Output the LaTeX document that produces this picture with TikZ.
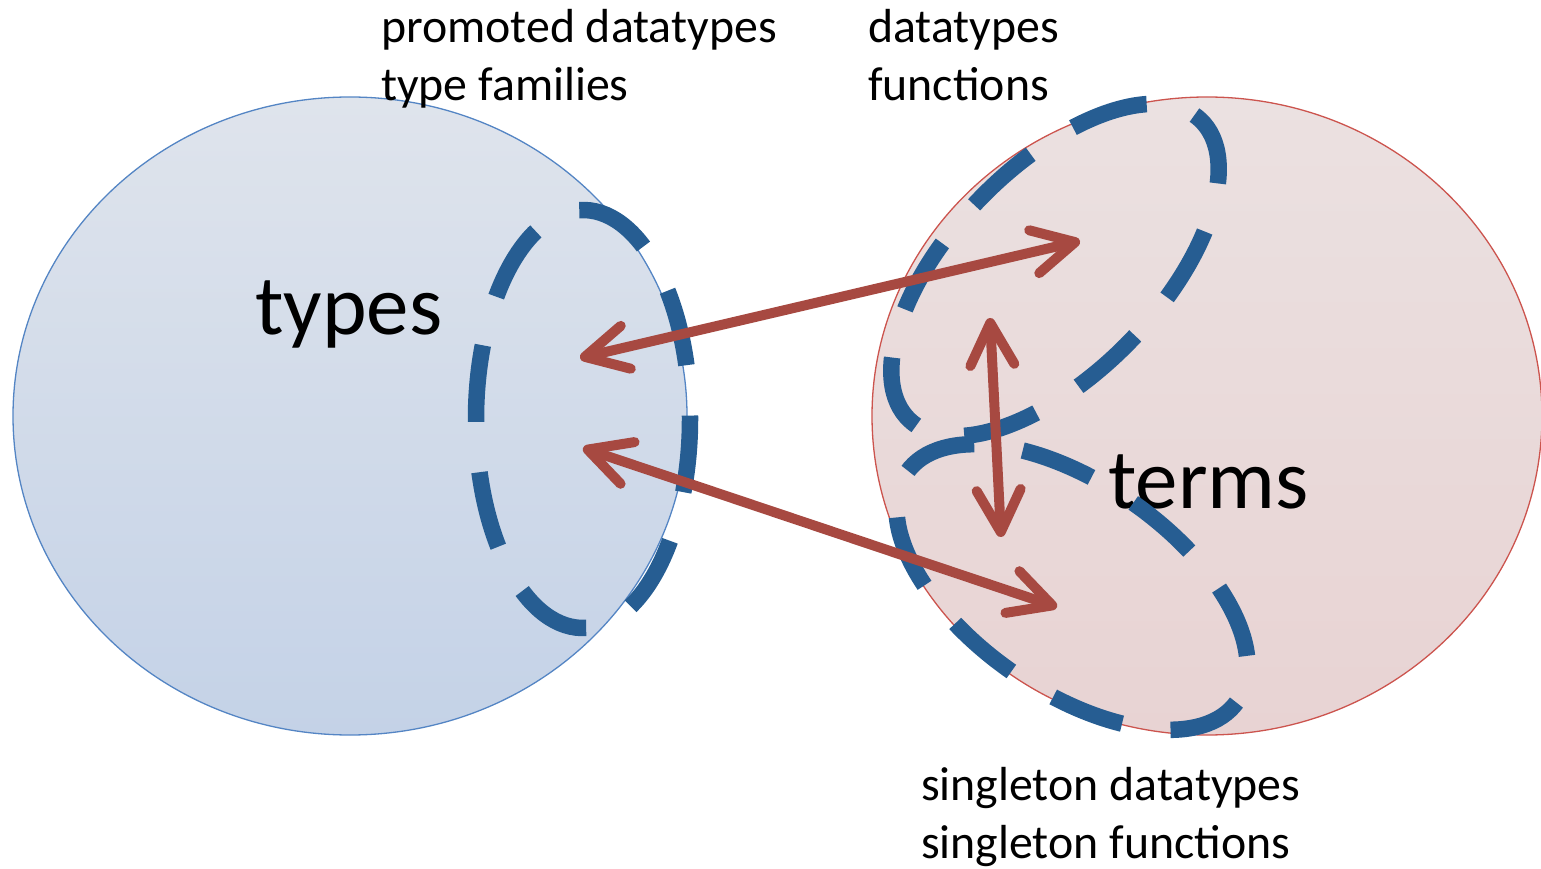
\documentclass[tikz,border=0pt]{standalone}
\usepackage{fontspec}
\setmainfont{Carlito}
\usetikzlibrary{arrows.meta,shapes.geometric}

\definecolor{typesTop}{RGB}{223,228,236}
\definecolor{typesBot}{RGB}{196,210,231}
\definecolor{typesLine}{RGB}{84,133,196}
\definecolor{termsTop}{RGB}{235,225,225}
\definecolor{termsBot}{RGB}{232,211,211}
\definecolor{termsLine}{RGB}{204,84,78}
\definecolor{regionBlue}{RGB}{38,93,146}
\definecolor{linkRed}{RGB}{167,73,65}

\begin{document}
\begin{tikzpicture}[x=1pt,y=1pt,
  universe/.style={ellipse, line width=1.3pt, inner sep=0pt},
  region/.style={draw=regionBlue, line width=16.5pt},
  barb/.tip={Straight Barb[length=42pt,width=44pt,line cap=round,line join=round]},
  link/.style={draw=linkRed, line width=10pt, line cap=round, barb-barb},
  small/.style={font=\fontsize{47.8}{57}\selectfont, anchor=base west, inner sep=0pt},
  big/.style={font=\fontsize{85}{100}\selectfont, anchor=base west, inner sep=0pt}]
\useasboundingbox (0,0) rectangle (1541,868);

% the two universes
\node[universe, draw=typesLine, top color=typesTop, bottom color=typesBot,
      minimum width=674pt, minimum height=638pt] (types) at (350,452) {};
\node[universe, draw=termsLine, top color=termsTop, bottom color=termsBot,
      minimum width=670pt, minimum height=638pt] (terms) at (1207,452) {};

% universe names
\node[big] (typesName) at (255,533) {types};
\node[big] (termsName) at (1108,359) {terms};

% captions
\node[small] (promLine) at (381,825) {promoted datatypes};
\node[small] (famLine)  at (381,767) {type families};
\node[small] (dataLine) at (868,825) {datatypes};
\node[small] (funLine)  at (868,767) {functions};
\node[small] (sdLine)   at (921,68)  {singleton datatypes};
\node[small] (sfLine)   at (921,10)  {singleton functions};

% dashed sub-regions
\draw[region, dash pattern=on 77pt off 50.5pt]
  (583,449) ++({107*cos(92)},{209*sin(92)})
  arc[start angle=92, end angle=-268, x radius=107, y radius=209];
\begin{scope}[shift={(1055,598)}, rotate=45.7]
  \draw[region, dash pattern=on 76pt off 50pt] ({209*cos(56.2)},{103.5*sin(56.2)})
    arc[start angle=56.2, end angle=-303.8, x radius=209, y radius=103.5];
\end{scope}
\begin{scope}[shift={(1072,281)}, rotate=-34.7]
  \draw[region, dash pattern=on 74pt off 49pt] ({201*cos(52.8)},{104*sin(52.8)})
    arc[start angle=52.8, end angle=-307.2, x radius=201, y radius=104];
\end{scope}

% end points of the correspondences
\coordinate (tyUp)   at (580,510);
\coordinate (tmUp)   at (1080,627);
\coordinate (tyDown) at (583,420);
\coordinate (tmDown) at (1057,261);
\coordinate (tmTop)  at (990,550);
\coordinate (tmBot)  at (1001,331);

\draw[link] (tyUp) -- (tmUp);
\draw[link] (tyDown) -- (tmDown);
\draw[link] (tmTop) -- (tmBot);
\end{tikzpicture}
\end{document}
